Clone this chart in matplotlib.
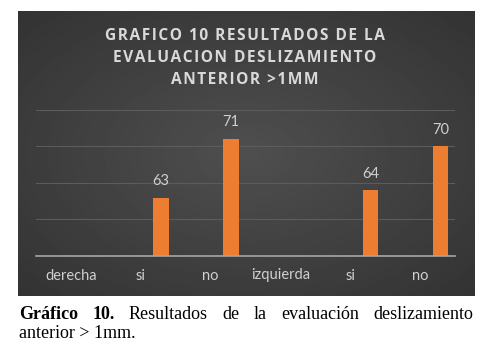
import matplotlib
matplotlib.use("Agg")
import matplotlib.pyplot as plt
import numpy as np

categories = ["derecha", "si", "no", "izquierda", "si", "no"]
values = [None, 63, 71, None, 64, 70]
title_lines = ["GRAFICO 10 RESULTADOS DE LA", "EVALUACION DESLIZAMIENTO", "ANTERIOR >1MM"]
caption_bold = "Gráfico 10."
caption_line1 = "Resultados de la evaluación deslizamiento"
caption_line2 = "anterior > 1mm."

W, H = 504, 353
fig = plt.figure(figsize=(W / 100, H / 100), dpi=100)
fig.patch.set_facecolor("white")


def fx(px):
    return px / W


def fy(py):
    return 1 - py / H


# dark panel with a soft radial gradient
bg = fig.add_axes([fx(18), fy(296), fx(457), (296 - 11) / H])
yy, xx = np.mgrid[-1:1:200j, -1:1:300j]
r = np.sqrt(xx ** 2 + yy ** 2) / np.sqrt(2)
bg.imshow(0.31 - 0.11 * r, cmap="gray", vmin=0, vmax=1, aspect="auto",
          extent=[0, 1, 0, 1])
bg.axis("off")

# chart axes
ax = fig.add_axes([fx(36), fy(256), fx(455 - 36), (256 - 110) / H])
ax.patch.set_alpha(0)
ax.set_xlim(-0.5, len(categories) - 0.5)
ax.set_ylim(55, 75)
ax.set_yticks([60, 65, 70, 75])
ax.yaxis.grid(True, color="#5c5c5c", lw=0.8)
ax.set_axisbelow(True)
for s in ax.spines.values():
    s.set_visible(False)
ax.axhline(55, color="#a6a6a6", lw=1.2, clip_on=False)
ax.tick_params(axis="y", length=0, labelleft=False)
ax.tick_params(axis="x", length=0, pad=9, labelsize=10.5, labelcolor="#d0d0d0")
ax.set_xticks(range(len(categories)))
ax.set_xticklabels(categories, family="Lato")

offset = 0.29
for i, v in enumerate(values):
    if v is None:
        continue
    ax.bar(i + offset, v, width=0.22, color="#ED7D31")
    ax.text(i + offset, v + 2.3, str(v), ha="center", va="center",
            color="#d0d0d0", fontsize=10.5, family="Lato", clip_on=False)

# title with letter spacing
hs = "\u200a"
for line, py in zip(title_lines, [35.5, 58.5, 79.5]):
    fig.text(fx(245), fy(py), hs.join(line), ha="center", va="center",
             color="#d9d9d9", fontsize=11.2, fontweight="bold",
             family=["Open Sans", "DejaVu Sans"])

# caption, justified first line
fig.canvas.draw()
renderer = fig.canvas.get_renderer()
left, right = 19, 473
words = [(w, "bold") for w in caption_bold.split()] + \
        [(w, "normal") for w in caption_line1.split()]
texts = []
for w, wt in words:
    t = fig.text(0, fy(319), w, ha="left", va="baseline", fontsize=13,
                 family="Liberation Serif", fontweight=wt, color="black")
    texts.append(t)
widths = [t.get_window_extent(renderer).width for t in texts]
gap = (right - left - sum(widths)) / (len(texts) - 1)
x = left
for t, wd in zip(texts, widths):
    t.set_x(fx(x))
    x += wd + gap
fig.text(fx(left), fy(338), caption_line2, ha="left", va="baseline",
         fontsize=13, family="Liberation Serif", color="black")

fig.savefig("out.png", dpi=100)
